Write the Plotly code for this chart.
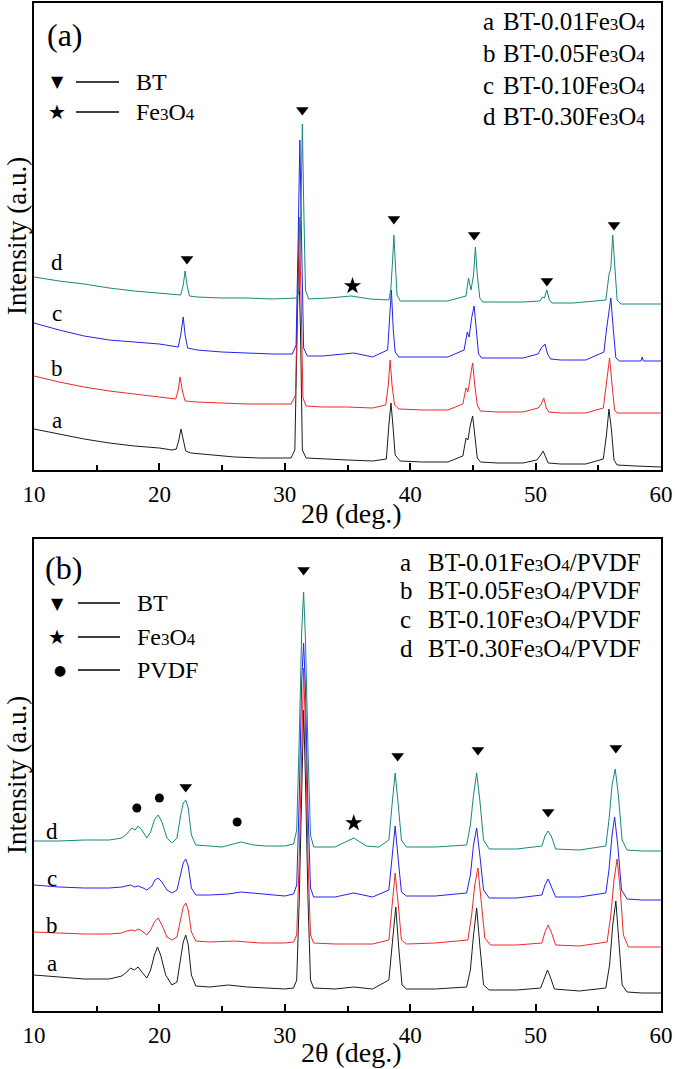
import plotly.graph_objects as go

# ---------------- data (2theta in deg, intensity in arbitrary units) ----------------
# Panel (a): BT-xFe3O4 powders
a_BT001 = [[10,41],[12,36],[14,31],[16,27],[18,24],[20,22],[21,20],[21.35,21],[21.55,30],[21.72,41],[21.9,30],[22.1,19],[22.5,17],[24,15],[26,13],[28,12],[30.5,12],[30.8,20],[30.95,140],[31.1,215],[31.25,140],[31.4,20],[31.7,12],[33,11],[35,10],[37,9],[38.1,11],[38.3,45],[38.47,67],[38.62,45],[38.8,15],[39.2,9],[41,8],[43,8],[44.2,14],[44.45,32],[44.6,30],[44.8,45],[44.98,54],[45.15,35],[45.35,12],[45.6,8],[47,7],[49,7],[50.1,10],[50.35,14],[50.6,19],[50.8,13],[51.0,7],[52,6],[54,6],[55.4,11],[55.65,35],[55.85,61],[56.05,40],[56.25,10],[56.5,5],[58,4],[60,3]]
a_BT005 = [[10,94],[12,88],[14,83],[16,79],[18,76],[20,73],[21.3,71],[21.5,80],[21.65,93],[21.85,78],[22.05,69],[23,68],[25,67],[27,66],[29,66],[30.5,66],[30.85,75],[31.0,170],[31.15,253],[31.3,170],[31.45,72],[31.7,64],[33,63],[35,63],[37,62],[38.05,65],[38.25,85],[38.4,110],[38.55,85],[38.75,65],[39.1,61],[41,60],[43,60],[44.2,66],[44.45,82],[44.6,78],[44.8,95],[44.98,107],[45.15,85],[45.35,65],[45.6,59],[47,58],[49,58],[50.2,62],[50.45,66],[50.65,72],[50.85,62],[51.05,58],[52,57],[54,57],[55.4,62],[55.6,80],[55.9,112],[56.1,85],[56.3,60],[56.5,57],[58,57],[60,57]]
a_BT010 = [[10,147],[12,140],[14,134],[16,130],[18,128],[20,126],[21.5,123],[21.7,135],[21.9,153],[22.05,135],[22.25,122],[23,120],[25,118],[27,117],[29,116],[30.6,116],[30.9,125],[31.05,220],[31.2,330],[31.35,220],[31.5,122],[31.8,114],[33,114],[35.5,117],[37,113],[38.2,120],[38.35,150],[38.5,180],[38.65,140],[38.8,118],[39.1,113],[41,113],[43,113],[44.3,120],[44.55,138],[44.7,133],[44.9,152],[45.1,164],[45.25,140],[45.45,116],[45.7,112],[47,112],[49,112],[50.2,116],[50.45,122],[50.75,126],[50.95,116],[51.2,111],[52,110],[54,110],[55.45,118],[55.65,140],[56.0,172],[56.2,140],[56.4,112],[56.7,109],[58.4,109],[58.5,113],[58.6,109],[60,109]]
a_BT030 = [[10,193],[12,189],[14,186],[16,182],[18,179],[20,177],[21.7,175],[21.9,185],[22.05,199],[22.2,185],[22.4,174],[23,173],[25,172],[27,172],[29,171],[30.95,172],[31.15,180],[31.3,270],[31.4,346],[31.5,270],[31.65,180],[31.9,171],[33.5,172],[35.3,174],[36.8,171],[38.3,170],[38.45,180],[38.6,210],[38.7,235],[38.8,210],[38.95,175],[39.2,169],[41,169],[43,169],[44.45,174],[44.65,192],[44.85,180],[45.05,195],[45.2,223],[45.35,195],[45.55,172],[45.8,168],[47,168],[49,168],[50.35,169],[50.55,173],[50.7,172],[50.9,180],[51.1,170],[51.3,167],[53,167],[55.6,170],[55.85,195],[56.0,202],[56.15,235],[56.3,205],[56.5,170],[56.8,166],[58,166],[60,166]]

# Panel (b): BT-xFe3O4/PVDF composites
b_BT001 = [[10,36],[12,34],[14,32],[16,32],[17,35],[17.4,39],[17.7,43],[18.0,41],[18.3,44],[18.6,39],[19.0,33],[19.3,41],[19.6,56],[19.85,64],[20.1,56],[20.5,36],[21.0,26],[21.4,29],[21.7,51],[21.9,69],[22.1,76],[22.3,66],[22.55,36],[22.9,25],[24,24],[25.5,26],[27,24],[28.5,23],[30,22],[30.7,23],[30.95,31],[31.15,111],[31.35,231],[31.5,301],[31.65,231],[31.85,111],[32.05,31],[32.3,23],[34,22],[35.5,24],[37,22],[38.3,31],[38.6,71],[38.85,104],[39.1,61],[39.35,26],[39.7,22],[42,22],[44.5,24],[44.8,41],[45.05,76],[45.3,103],[45.55,66],[45.85,26],[46.3,21],[48.5,21],[50.4,23],[50.7,33],[50.95,41],[51.2,33],[51.5,22],[53.5,20],[55.6,23],[55.9,46],[56.15,86],[56.4,110],[56.65,71],[56.9,26],[57.3,19],[58.5,18],[60,18]]
b_BT005 = [[10,79],[12,78],[14,77],[16,77],[17,78],[17.4,80],[17.8,81],[18.05,80],[18.3,82],[18.6,80],[19.0,76],[19.3,81],[19.6,89],[19.9,93],[20.2,86],[20.6,74],[21.0,71],[21.4,74],[21.7,91],[21.9,104],[22.1,108],[22.3,101],[22.55,79],[22.9,70],[24,69],[26,70],[28,68],[30,68],[30.7,69],[30.95,76],[31.15,151],[31.35,281],[31.5,343],[31.65,281],[31.85,151],[32.05,76],[32.3,68],[34,67],[37,67],[38.3,71],[38.55,106],[38.8,138],[39.05,106],[39.3,71],[39.7,67],[42,68],[44.6,71],[44.9,96],[45.15,126],[45.4,143],[45.65,111],[45.95,73],[46.4,66],[48.5,66],[50.5,68],[50.75,79],[51.0,86],[51.25,79],[51.6,66],[53.5,65],[55.7,69],[56.0,96],[56.25,131],[56.5,152],[56.75,121],[57.0,76],[57.4,64],[58.5,64],[60,64]]
b_BT010 = [[10,126],[12,124],[14,123],[16,123],[17,124],[17.7,126],[18.0,124],[18.3,125],[18.7,123],[19.0,121],[19.4,125],[19.65,131],[19.9,133],[20.2,129],[20.6,121],[21.0,118],[21.4,121],[21.7,136],[21.9,148],[22.1,152],[22.3,145],[22.55,123],[22.9,116],[24,116],[25.5,117],[26.5,119],[27.5,118],[29,116],[30,115],[30.7,117],[30.95,126],[31.15,211],[31.35,331],[31.5,368],[31.65,321],[31.85,201],[32.05,123],[32.3,114],[34,114],[35.5,118],[37,114],[38.3,121],[38.55,151],[38.8,185],[39.05,151],[39.3,119],[39.7,115],[42,115],[44.5,118],[44.8,136],[45.05,166],[45.3,183],[45.55,156],[45.85,121],[46.3,113],[48.5,113],[50.5,116],[50.75,126],[51.0,132],[51.25,125],[51.6,114],[53.5,114],[55.6,118],[55.85,141],[56.1,176],[56.3,194],[56.55,166],[56.85,121],[57.3,112],[58.5,111],[60,111]]
b_BT030 = [[10,170],[12,170],[14,171],[16,171],[17,173],[17.4,177],[17.8,183],[18.05,181],[18.3,185],[18.6,181],[19.0,173],[19.3,179],[19.6,191],[19.9,196],[20.2,189],[20.6,173],[21.0,168],[21.4,173],[21.7,196],[21.9,208],[22.1,211],[22.3,203],[22.55,176],[22.9,166],[24,165],[25,164],[26.5,169],[27.5,166],[28.5,165],[30,165],[30.7,167],[30.95,181],[31.15,271],[31.35,381],[31.5,419],[31.65,371],[31.85,261],[32.05,176],[32.3,164],[34,164],[35.5,173],[36.5,165],[37.5,164],[38.3,171],[38.55,206],[38.8,238],[39.05,206],[39.3,171],[39.7,164],[42,164],[44.5,166],[44.8,186],[45.05,216],[45.3,238],[45.55,211],[45.85,171],[46.3,162],[48.5,162],[50.5,165],[50.75,175],[51.0,180],[51.25,175],[51.6,162],[53.5,161],[55.6,165],[55.85,191],[56.1,226],[56.35,242],[56.6,216],[56.9,171],[57.3,161],[58.5,160],[60,160]]

# peak markers (2theta, intensity)
a_bt_marks = [[22.2,211],[31.4,360],[38.7,251],[45.1,235],[50.9,189],[56.25,245]]
a_fe_marks = [[35.4,184]]
b_bt_marks = [[22.1,224],[31.5,441],[39.0,255],[45.4,261],[51.0,199],[56.4,263]]
b_fe_marks = [[35.5,188]]
b_pvdf_marks = [[18.2,203],[20.0,213],[26.2,189]]

x_ticks = [10, 20, 30, 40, 50, 60]
colors = ["#1c1c1c", "#f0282a", "#2222f0", "#17877e"]

W, H = 675, 1069
def PX(x): return x / W
def PY(y): return 1 - y / H

SERIF = "Liberation Serif, Tinos, Times New Roman, DejaVu Serif, serif"
SYM = "DejaVu Sans"

fig = go.Figure()

def add_curves(series, xa, ya):
    for s, c in zip(series, colors):
        fig.add_trace(go.Scatter(x=[p[0] for p in s], y=[p[1] for p in s], mode="lines",
                                 line=dict(color=c, width=1), xaxis=xa, yaxis=ya,
                                 hoverinfo="skip"))

def add_marks(marks, symbol, size, xa, ya):
    fig.add_trace(go.Scatter(x=[p[0] for p in marks], y=[p[1] for p in marks], mode="markers",
                             marker=dict(symbol=symbol, size=size, color="black", line=dict(width=0)),
                             xaxis=xa, yaxis=ya, hoverinfo="skip"))

add_curves([a_BT001, a_BT005, a_BT010, a_BT030], "x", "y")
add_marks(a_bt_marks, "triangle-down", 11, "x", "y")
add_marks(a_fe_marks, "star", 13, "x", "y")
add_curves([b_BT001, b_BT005, b_BT010, b_BT030], "x2", "y2")
add_marks(b_bt_marks, "triangle-down", 11, "x2", "y2")
add_marks(b_fe_marks, "star", 13, "x2", "y2")
add_marks(b_pvdf_marks, "circle", 9, "x2", "y2")

xdom = [PX(34), PX(661)]
def xaxis_cfg(anchor):
    return dict(domain=xdom, range=[10, 60], anchor=anchor, showline=True, mirror=True,
                linecolor="black", linewidth=1.5, ticks="inside", ticklen=7, tickwidth=1.5,
                tickcolor="black", tickmode="array", tickvals=x_ticks,
                ticktext=[str(t) for t in x_ticks], ticklabelstandoff=3,
                tickfont=dict(family=SERIF, size=23, color="black"),
                showgrid=False, zeroline=False,
                minor=dict(tickmode="array", tickvals=[15, 25, 35, 45, 55], ticks="inside",
                           ticklen=5, tickwidth=1.5, tickcolor="black", showgrid=False))
def yaxis_cfg(anchor, dom, rng):
    return dict(domain=dom, range=rng, anchor=anchor, showline=True, mirror=True,
                linecolor="black", linewidth=1.5, ticks="", showticklabels=False,
                showgrid=False, zeroline=False)

fig.update_layout(
    width=W, height=H, margin=dict(l=0, r=0, t=0, b=0),
    paper_bgcolor="white", plot_bgcolor="white", showlegend=False, template="none",
    font=dict(family=SERIF, color="black"),
    xaxis=xaxis_cfg("y"), yaxis=yaxis_cfg("x", [PY(470), PY(3)], [0, 467]),
    xaxis2=xaxis_cfg("y2"), yaxis2=yaxis_cfg("x2", [PY(1011), PY(539)], [0, 472]),
)

ann = []
def T(text, x, y, size=23, xanchor="left", family=SERIF, angle=0):
    ann.append(dict(text=text, x=PX(x), y=PY(y), xref="paper", yref="paper",
                    xanchor=xanchor, yanchor="middle", showarrow=False, textangle=angle,
                    font=dict(family=family, size=size, color="black")))

def fe(rest="", sub=17):
    return ("Fe<span style='font-size:%dpx'>3</span>O<span style='font-size:%dpx'>4</span>" % (sub, sub)) + rest

# axis titles
T("2θ (deg.)", 352, 514, size=28, xanchor="center")
T("2θ (deg.)", 352, 1052, size=28, xanchor="center")
T("Intensity (a.u.)", 17, 236, size=27, xanchor="center", angle=-90)
T("Intensity (a.u.)", 17, 775, size=27, xanchor="center", angle=-90)

# panel labels
T("(a)", 65, 35, size=32, xanchor="center")
T("(b)", 63, 568, size=32, xanchor="center")

# left keys
T("▼", 57, 82, size=16, xanchor="center", family=SYM)
T("BT", 134, 82, size=24)
T("★", 57, 112, size=20, xanchor="center", family=SYM)
T(fe(), 134, 112, size=24)
T("▼", 58, 603, size=16, xanchor="center", family=SYM)
T("BT", 135, 603, size=24)
T("★", 57, 637, size=20, xanchor="center", family=SYM)
T(fe(), 135, 637, size=24)
T("●", 60, 670, size=14, xanchor="center", family=SYM)
T("PVDF", 135, 670, size=24)

shapes = []
for (x0, x1, y) in [(76, 119, 82), (76, 119, 112), (78, 120, 603), (78, 120, 637), (78, 120, 670)]:
    shapes.append(dict(type="line", xref="paper", yref="paper", x0=PX(x0), x1=PX(x1),
                       y0=PY(y), y1=PY(y), line=dict(color="black", width=1.3)))

# right keys
for i, (lab, frac) in enumerate(zip("abcd", ["0.01", "0.05", "0.10", "0.30"])):
    ya = 22 + i * 31.5
    T(lab, 481, ya, size=25)
    T("BT-" + frac + fe(), 501, ya, size=25)
    yb = 562 + i * 28.7
    T(lab, 398, yb, size=25)
    T("BT-" + frac + fe("/PVDF"), 426, yb, size=25)

# curve letters
for lab, y in zip("dcba", [262, 313, 368, 420]):
    T(lab, 57, y, size=23, xanchor="center")
for lab, y in zip("dcba", [831, 878, 925, 963]):
    T(lab, 52, y, size=23, xanchor="center")

fig.update_layout(annotations=ann, shapes=shapes)
fig.write_html("out.html", config={"displayModeBar": False},
               post_script="document.body.style.margin='0';")
